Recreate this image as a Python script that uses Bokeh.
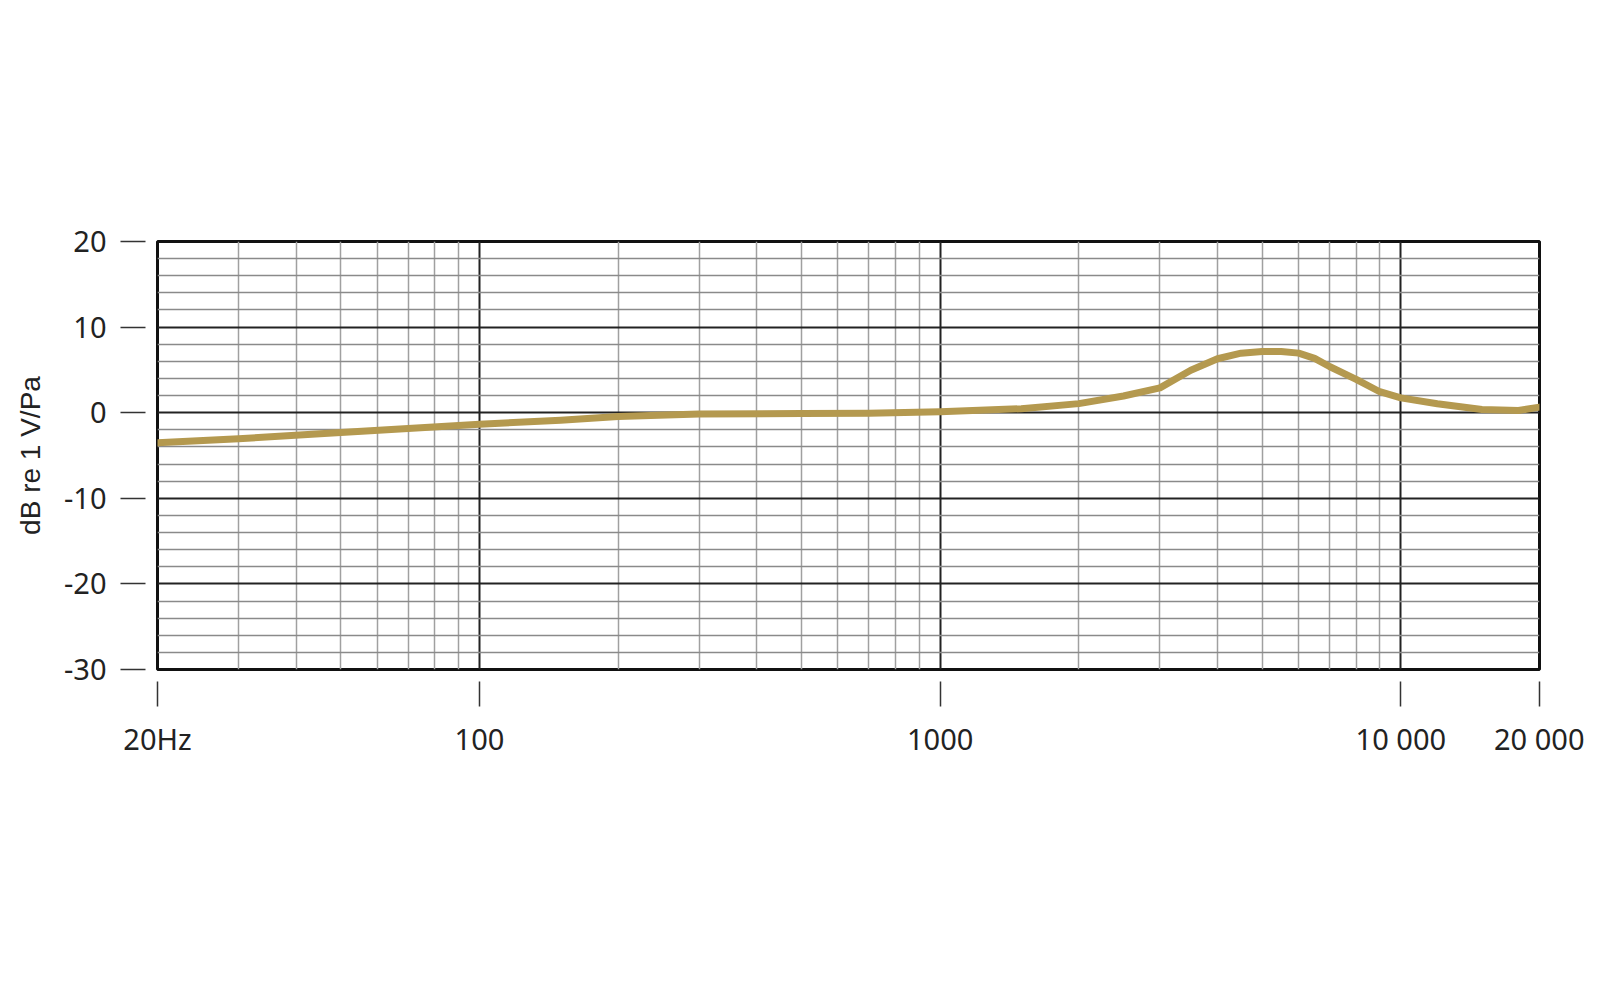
from bokeh.plotting import figure
from bokeh.models import Range1d, FixedTicker
from bokeh.embed import file_html
from bokeh.resources import INLINE

# Frequency response data (Hz, dB re 1 V/Pa)
freq_hz = [20, 30, 50, 70, 100, 150, 200, 300, 500, 700, 1000, 1500, 2000, 2500,
           3000, 3500, 4000, 4500, 5000, 5500, 6000, 6500, 7000, 8000, 9000,
           10000, 12000, 15000, 18000, 20000]
level_db = [-3.5, -3.05, -2.3, -1.85, -1.35, -0.87, -0.45, -0.15, -0.1, -0.05, 0.1, 0.47, 1.06, 1.95,
            2.9, 4.95, 6.3, 6.95, 7.15, 7.16, 6.96, 6.35, 5.4, 3.9, 2.45,
            1.73, 1.05, 0.38, 0.25, 0.65]

x_tick_values = [20, 100, 1000, 10000, 20000]
x_tick_labels = ["20Hz", "100", "1000", "10 000", "20 000"]
y_tick_values = [-30, -20, -10, 0, 10, 20]
x_minor_grid = [30, 40, 50, 60, 70, 80, 90, 200, 300, 400, 500, 600, 700, 800, 900,
                2000, 3000, 4000, 5000, 6000, 7000, 8000, 9000]
x_major_grid = [100, 1000, 10000]
y_minor_grid = [v for v in range(-28, 20, 2) if v % 10 != 0]

p = figure(width=1584, height=980, x_axis_type="log",
           x_range=Range1d(20, 20000), y_range=Range1d(-30, 20),
           output_backend="svg", toolbar_location=None,
           min_border_left=157, min_border_right=45,
           min_border_top=241, min_border_bottom=311)

p.background_fill_color = "white"
p.border_fill_color = "white"
p.outline_line_color = "#111111"
p.outline_line_width = 3

# grids
p.xgrid.ticker = FixedTicker(ticks=x_major_grid, minor_ticks=x_minor_grid)
p.xgrid.grid_line_color = "#222222"
p.xgrid.grid_line_width = 2
p.xgrid.minor_grid_line_color = "#a0a0a0"
p.xgrid.minor_grid_line_width = 1.5

p.ygrid.ticker = FixedTicker(ticks=y_tick_values, minor_ticks=y_minor_grid)
p.ygrid.grid_line_color = "#222222"
p.ygrid.grid_line_width = 2
p.ygrid.minor_grid_line_color = "#8a8a8a"
p.ygrid.minor_grid_line_width = 1.5

# axes
for ax in (p.xaxis[0], p.yaxis[0]):
    ax.axis_line_color = None
    ax.minor_tick_line_color = None
    ax.major_tick_in = 0
    ax.major_tick_out = 37
    ax.major_tick_line_dash = "25 80"
    ax.major_tick_line_color = "#333333"
    ax.major_tick_line_width = 1.5
    ax.major_label_text_font = "Noto Sans"
    ax.major_label_text_font_size = "29px"
    ax.major_label_text_color = "#222222"

p.xaxis.ticker = FixedTicker(ticks=x_tick_values)
p.xaxis.major_label_overrides = {v: t for v, t in zip(x_tick_values, x_tick_labels)}
p.xaxis.major_label_standoff = 12

p.yaxis.ticker = FixedTicker(ticks=y_tick_values)
p.yaxis.major_label_overrides = {v: str(v) for v in y_tick_values}
p.yaxis.major_label_standoff = 14
p.yaxis.axis_label = "dB re 1 V/Pa"
p.yaxis.axis_label_text_font = "Liberation Sans"
p.yaxis.axis_label_text_font_size = "28px"
p.yaxis.axis_label_text_font_style = "normal"
p.yaxis.axis_label_text_color = "#222222"
p.yaxis.axis_label_standoff = 15

p.line(freq_hz, level_db, line_color="#b4994f", line_width=7,
       line_join="round", line_cap="round")

open("out.html", "w").write(file_html(p, INLINE))
